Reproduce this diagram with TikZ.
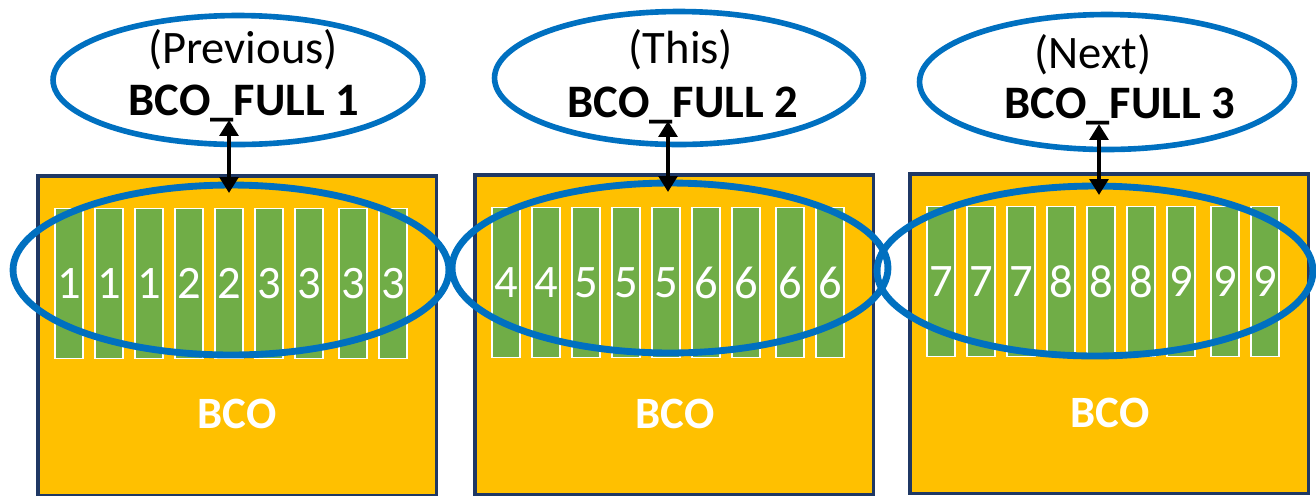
\documentclass[tikz,border=0pt]{standalone}
\usepackage{fontspec}
\setmainfont{Carlito}
\usepackage{tikz}
\usetikzlibrary{arrows.meta, positioning, shapes.geometric}
\definecolor{bcoGold}{RGB}{255,192,0}
\definecolor{bcoNavy}{RGB}{31,56,100}
\definecolor{bcoGreen}{RGB}{112,173,71}
\definecolor{bcoBlue}{RGB}{0,112,192}

\begin{document}
\begin{tikzpicture}[x=0.02cm, y=-0.02cm,
    bcobox/.style={draw=bcoNavy, line width=2pt, fill=bcoGold, anchor=north west, minimum width=7.98cm, minimum height=6.4cm, inner sep=0pt},
    slot/.style={draw=white, line width=0.9pt, fill=bcoGreen, minimum width=0.57cm, minimum height=3.0cm, inner sep=0pt, text=white, font=\fontsize{26.5}{26.5}\selectfont},
    ring/.style={ellipse, draw=bcoBlue, line width=3.9pt, inner sep=0pt, minimum width=8.72cm, minimum height=3.4cm},
    fullring/.style={ellipse, draw=bcoBlue, line width=3.2pt, inner sep=0pt},
    bcolbl/.style={anchor=base, text=white, font=\fontsize{25.5}{25.5}\selectfont\bfseries},
    fulltxt/.style={anchor=base, font=\fontsize{26.5}{26.5}\selectfont},
    dbl/.style={{Triangle[length=9pt,width=10.5pt]}-{Triangle[length=9pt,width=10.5pt]}, line width=2.8pt}]
    \useasboundingbox (0,0) rectangle (1316,495);
    % three BCO boxes, 9 slots each
    \foreach \bx/\by/\lx/\ly/\digs [count=\n] in {36/174/237/428/{1,1,1,2,2,3,3,3,3},
                                               473/173/675/428/{4,4,5,5,5,6,6,6,6},
                                               908/172/1110/427/{7,7,7,8,8,8,9,9,9}} {
        \node[bcobox] (box\n) at (\bx,\by) {};
        \node[bcolbl] (bco\n) at (\lx,\ly) {BCO};
        \foreach \d [count=\i] in \digs {
            \pgfmathsetmacro\sx{\bx+33+40*(\i-1)+4*(\i>7)}
            \node[slot] (slot\n-\i) at (\sx,\by+109.5) {\d};
        }
    }
    % groups read by each BCO_FULL
    \node[ring] (ring1) at (231,270) {};
    \node[ring] (ring2) at (670,268) {};
    \node[ring] (ring3) at (1095,271) {};
    % BCO_FULL bubbles
    \node[fullring, minimum width=7.4cm, minimum height=2.58cm] (full1) at (238,80) {};
    \node[fullring, minimum width=7.38cm, minimum height=2.66cm] (full2) at (679,78) {};
    \node[fullring, minimum width=7.5cm, minimum height=2.7cm] (full3) at (1107,82) {};
    \node[fulltxt] (tag1) at (243,63) {(Previous)};
    \node[fulltxt] (tag2) at (681,63) {(This)};
    \node[fulltxt] (tag3) at (1093,68) {(Next)};
    \node[fulltxt, font=\fontsize{26.5}{26.5}\selectfont\bfseries] (name1) at (244,115) {BCO\_FULL 1};
    \node[fulltxt, font=\fontsize{26.5}{26.5}\selectfont\bfseries] (name2) at (683,117) {BCO\_FULL 2};
    \node[fulltxt, font=\fontsize{26.5}{26.5}\selectfont\bfseries] (name3) at (1120,118) {BCO\_FULL 3};
    % links
    \coordinate (up1) at (229,120);  \coordinate (dn1) at (229,193);
    \coordinate (up2) at (668,121);  \coordinate (dn2) at (668,192);
    \coordinate (up3) at (1099,124); \coordinate (dn3) at (1099,195);
    \draw[dbl] (up1) -- (dn1);
    \draw[dbl] (up2) -- (dn2);
    \draw[dbl] (up3) -- (dn3);
\end{tikzpicture}
\end{document}
